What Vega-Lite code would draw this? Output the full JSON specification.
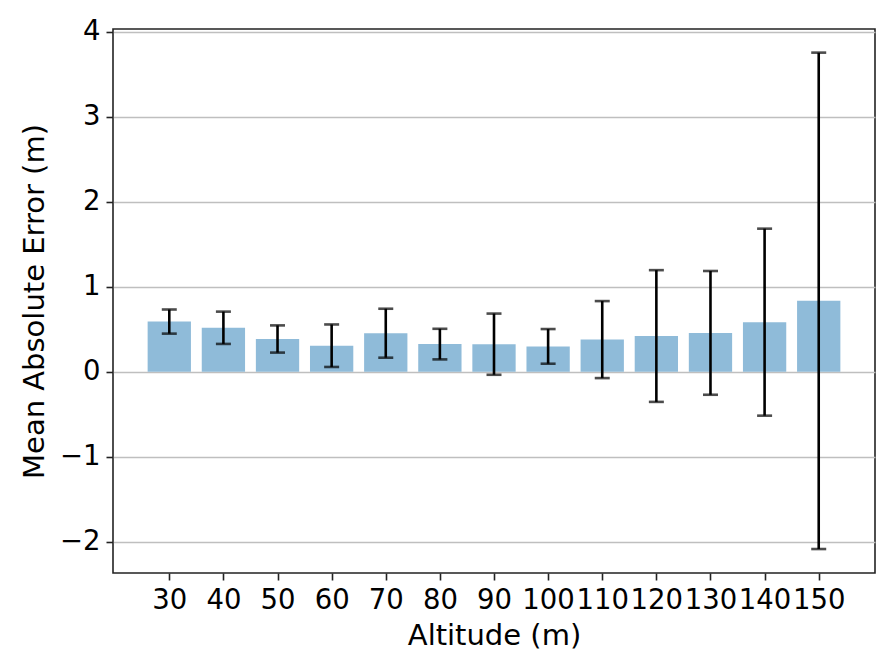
{
  "$schema": "https://vega.github.io/schema/vega-lite/v6.json",
  "autosize": {"type": "none"},
  "padding": {"left": 113, "top": 29, "right": 21, "bottom": 99},
  "width": 762,
  "height": 544,
  "background": "white",
  "config": {
    "view": {"stroke": "#222", "strokeWidth": 1.6},
    "font": "DejaVu Sans",
    "axis": {
      "labelFont": "DejaVu Sans",
      "titleFont": "DejaVu Sans",
      "labelFontSize": 27.5,
      "titleFontSize": 29,
      "titleFontWeight": "normal",
      "labelColor": "#000",
      "titleColor": "#000",
      "tickColor": "#222",
      "tickWidth": 1.6,
      "tickSize": 7,
      "labelPadding": 6,
      "domain": false
    }
  },
  "data": {
    "values": [
      {"alt": 30, "mae": 0.59, "err": 0.142},
      {"alt": 40, "mae": 0.517, "err": 0.19},
      {"alt": 50, "mae": 0.385, "err": 0.16},
      {"alt": 60, "mae": 0.306, "err": 0.25},
      {"alt": 70, "mae": 0.453, "err": 0.288},
      {"alt": 80, "mae": 0.325, "err": 0.18},
      {"alt": 90, "mae": 0.324, "err": 0.36},
      {"alt": 100, "mae": 0.298, "err": 0.204},
      {"alt": 110, "mae": 0.378, "err": 0.453},
      {"alt": 120, "mae": 0.42, "err": 0.775},
      {"alt": 130, "mae": 0.457, "err": 0.728},
      {"alt": 140, "mae": 0.583, "err": 1.1},
      {"alt": 150, "mae": 0.834, "err": 2.92}
    ]
  },
  "layer": [
    {
      "mark": {"type": "bar", "width": 43.3, "color": "#8fbbd9"},
      "encoding": {
        "x": {
          "field": "alt",
          "type": "quantitative",
          "title": "Altitude (m)",
          "scale": {"domain": [19.6, 160.4], "nice": false, "zero": false, "padding": 0},
          "axis": {
            "values": [30, 40, 50, 60, 70, 80, 90, 100, 110, 120, 130, 140, 150],
            "labelOverlap": false,
            "labelFlush": false,
            "grid": false,
            "titlePadding": 8,
            "format": "d"
          }
        },
        "y": {
          "field": "mae",
          "type": "quantitative",
          "title": "Mean Absolute Error (m)",
          "scale": {"domain": [-2.368, 4.032], "nice": false, "padding": 0},
          "axis": {
            "values": [-2, -1, 0, 1, 2, 3, 4],
            "format": "d",
            "grid": true,
            "gridColor": "#bfbfbf",
            "gridWidth": 1.6,
            "titlePadding": 10,
            "labelFlush": false
          }
        }
      }
    },
    {
      "mark": {
        "type": "errorbar",
        "ticks": {"size": 15, "thickness": 2.6, "color": "#000"},
        "rule": {"strokeWidth": 2.6, "color": "#000"},
        "color": "#000"
      },
      "encoding": {
        "x": {"field": "alt", "type": "quantitative", "title": "Altitude (m)"},
        "y": {"field": "mae", "type": "quantitative", "title": "Mean Absolute Error (m)"},
        "yError": {"field": "err"}
      }
    }
  ]
}
